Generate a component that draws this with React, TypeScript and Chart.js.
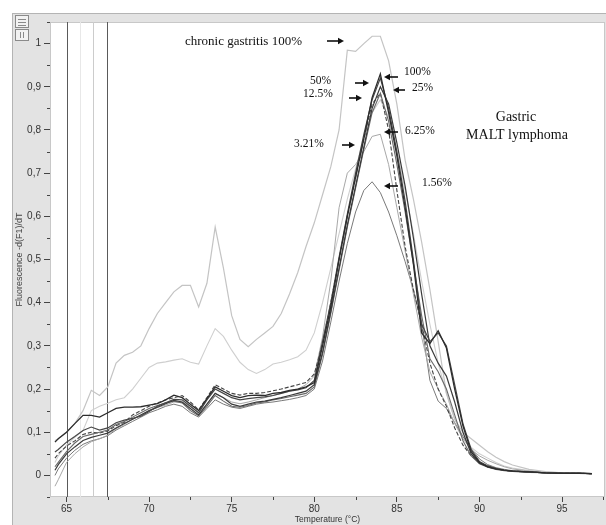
import React, { useEffect, useRef } from "react";
import { Chart, registerables } from "chart.js";

Chart.register(...registerables);

// Temperature grid (°C)
const temperatures = [
  64.3, 64.5, 65, 65.5, 66, 66.5, 67, 67.5, 68, 68.5,
  69, 69.5, 70, 70.5, 71, 71.5, 72, 72.5, 73, 73.5,
  74, 74.5, 75, 75.5, 76, 76.5, 77, 77.5, 78, 78.5,
  79, 79.5, 80, 80.5, 81, 81.5, 82, 82.5, 83, 83.5,
  84, 84.5, 85, 85.5, 86, 86.5, 87, 87.5, 88, 88.5,
  89, 89.5, 90, 90.5, 91, 91.5, 92, 93, 94, 95,
  96, 96.8,
];

const malt100 = [
  0.077, 0.085, 0.10, 0.12, 0.139, 0.139, 0.135, 0.145, 0.155, 0.158,
  0.158, 0.159, 0.163, 0.166, 0.175, 0.186, 0.18, 0.165, 0.15, 0.178,
  0.205, 0.195, 0.185, 0.18, 0.185, 0.186, 0.185, 0.19, 0.192, 0.197,
  0.20, 0.205, 0.215, 0.30, 0.39, 0.50, 0.60, 0.69, 0.78, 0.875,
  0.93, 0.84, 0.74, 0.62, 0.49, 0.33, 0.305, 0.335, 0.295, 0.20,
  0.115, 0.055, 0.03, 0.02, 0.015, 0.012, 0.01, 0.008, 0.006, 0.005,
  0.005, 0.004,
];

const malt50 = [
  0.054, 0.06, 0.077, 0.09, 0.104, 0.112, 0.105, 0.11, 0.122, 0.128,
  0.132, 0.137, 0.148, 0.16, 0.168, 0.176, 0.175, 0.16, 0.145, 0.175,
  0.20, 0.19, 0.18, 0.175, 0.178, 0.18, 0.182, 0.185, 0.19, 0.195,
  0.198, 0.203, 0.22, 0.31, 0.40, 0.505, 0.605, 0.70, 0.79, 0.87,
  0.92, 0.85, 0.75, 0.635, 0.50, 0.35, 0.31, 0.33, 0.30, 0.21,
  0.12, 0.06, 0.032, 0.022, 0.016, 0.012, 0.01, 0.008, 0.006, 0.005,
  0.005, 0.004,
];

const malt25 = [
  0.012, 0.025, 0.05, 0.066, 0.081, 0.088, 0.093, 0.098, 0.11, 0.12,
  0.13, 0.14, 0.15, 0.158, 0.166, 0.174, 0.17, 0.155, 0.14, 0.165,
  0.19, 0.18, 0.165, 0.16, 0.165, 0.17, 0.172, 0.176, 0.18, 0.185,
  0.19, 0.195, 0.21, 0.285, 0.38, 0.48, 0.58, 0.67, 0.76, 0.85,
  0.90, 0.86, 0.77, 0.67, 0.55, 0.42, 0.30, 0.26, 0.23, 0.17,
  0.10, 0.05, 0.028, 0.02, 0.015, 0.012, 0.01, 0.008, 0.006, 0.005,
  0.005, 0.004,
];

const malt12_5 = [
  0.02, 0.03, 0.055, 0.075, 0.09, 0.095, 0.10, 0.105, 0.118, 0.125,
  0.135, 0.145, 0.155, 0.162, 0.168, 0.172, 0.168, 0.15, 0.138, 0.16,
  0.185, 0.172, 0.16, 0.158, 0.162, 0.168, 0.17, 0.175, 0.178, 0.182,
  0.186, 0.19, 0.205, 0.28, 0.375, 0.475, 0.575, 0.665, 0.755, 0.84,
  0.885, 0.82, 0.72, 0.61, 0.49, 0.37, 0.27, 0.24, 0.20, 0.14,
  0.08, 0.045, 0.027, 0.019, 0.014, 0.011, 0.009, 0.007, 0.006, 0.005,
  0.005, 0.004,
];

const malt6_25 = [
  0.04, 0.05, 0.068, 0.08, 0.095, 0.10, 0.098, 0.103, 0.115, 0.123,
  0.14, 0.15, 0.16, 0.168, 0.175, 0.18, 0.185, 0.17, 0.152, 0.18,
  0.21, 0.20, 0.19, 0.186, 0.19, 0.19, 0.192, 0.196, 0.20, 0.205,
  0.21, 0.215, 0.235, 0.305, 0.40, 0.50, 0.60, 0.69, 0.78, 0.86,
  0.885, 0.80, 0.66, 0.53, 0.43, 0.35, 0.26, 0.20, 0.16, 0.11,
  0.07, 0.045, 0.03, 0.022, 0.016, 0.012, 0.01, 0.008, 0.006, 0.005,
  0.005, 0.004,
];

const malt3_21 = [
  -0.025, -0.01, 0.03, 0.05, 0.066, 0.078, 0.085, 0.093, 0.108, 0.118,
  0.13, 0.14, 0.15, 0.157, 0.163, 0.17, 0.17, 0.16, 0.145, 0.165,
  0.19, 0.18, 0.17, 0.166, 0.17, 0.175, 0.18, 0.185, 0.19, 0.195,
  0.20, 0.21, 0.23, 0.32, 0.45, 0.62, 0.70, 0.72, 0.75, 0.785,
  0.79, 0.72, 0.62, 0.52, 0.42, 0.32, 0.24, 0.20, 0.165, 0.12,
  0.085, 0.06, 0.045, 0.035, 0.027, 0.02, 0.015, 0.01, 0.007, 0.006,
  0.005, 0.004,
];

const malt1_56 = [
  0.0, 0.015, 0.04, 0.058, 0.072, 0.08, 0.085, 0.092, 0.105, 0.115,
  0.125, 0.135, 0.145, 0.152, 0.16, 0.165, 0.16, 0.145, 0.135, 0.155,
  0.175, 0.165, 0.158, 0.155, 0.16, 0.165, 0.168, 0.17, 0.173, 0.176,
  0.18, 0.185, 0.20, 0.265, 0.355, 0.45, 0.537, 0.61, 0.66, 0.68,
  0.655, 0.61, 0.555, 0.495, 0.43, 0.35, 0.22, 0.172, 0.155, 0.122,
  0.09, 0.062, 0.038, 0.025, 0.018, 0.014, 0.011, 0.008, 0.006, 0.005,
  0.005, 0.004,
];

const gastritis100 = [
  0.08, 0.085, 0.10, 0.12, 0.15, 0.197, 0.185, 0.205, 0.26, 0.278,
  0.285, 0.30, 0.34, 0.375, 0.40, 0.425, 0.44, 0.44, 0.39, 0.445,
  0.575, 0.48, 0.37, 0.315, 0.298, 0.315, 0.33, 0.345, 0.375, 0.42,
  0.47, 0.53, 0.585, 0.65, 0.715, 0.80, 0.985, 0.982, 1.0, 1.017,
  1.017, 0.96, 0.86, 0.73, 0.64, 0.54, 0.43, 0.31, 0.19, 0.13,
  0.10, 0.085, 0.07, 0.055, 0.042, 0.032, 0.024, 0.014, 0.009, 0.006,
  0.005, 0.005,
];

const gastritisLow = [
  0.03, 0.045, 0.07, 0.088, 0.104, 0.15, 0.16, 0.167, 0.175, 0.18,
  0.20, 0.225, 0.25, 0.26, 0.263, 0.267, 0.27, 0.262, 0.258, 0.30,
  0.34, 0.322, 0.29, 0.262, 0.245, 0.236, 0.245, 0.258, 0.262, 0.268,
  0.275, 0.29, 0.33, 0.40, 0.48, 0.56, 0.64, 0.71, 0.78, 0.84,
  0.87, 0.83, 0.75, 0.66, 0.56, 0.45, 0.35, 0.26, 0.19, 0.13,
  0.09, 0.065, 0.05, 0.04, 0.03, 0.022, 0.017, 0.011, 0.008, 0.006,
  0.005, 0.004,
];

const xTickValues = [65, 70, 75, 80, 85, 90, 95];
const yTickValues = [0, 0.1, 0.2, 0.3, 0.4, 0.5, 0.6, 0.7, 0.8, 0.9, 1];

const SERIES = [
  { label: "100%", data: malt100, color: "#2c2c2c", width: 1.3 },
  { label: "50%", data: malt50, color: "#474747", width: 1.2 },
  { label: "25%", data: malt25, color: "#3a3a3a", width: 1.2 },
  { label: "12.5%", data: malt12_5, color: "#6a6a6a", width: 1.1 },
  { label: "6.25%", data: malt6_25, color: "#444444", width: 1.1, dash: [4, 2] },
  { label: "3.21%", data: malt3_21, color: "#a8a8a8", width: 1.0 },
  { label: "1.56%", data: malt1_56, color: "#7a7a7a", width: 1.0 },
  { label: "chronic gastritis 100%", data: gastritis100, color: "#c4c4c4", width: 1.2 },
  { label: "chronic gastritis", data: gastritisLow, color: "#cfcfcf", width: 1.1 },
];

const fmt = (v: number) => (Math.round(v * 10) / 10).toString().replace(".", ",");

function arrow(ctx: CanvasRenderingContext2D, x1: number, y1: number, x2: number, y2: number) {
  const ang = Math.atan2(y2 - y1, x2 - x1);
  const hl = 6;
  const hw = 3.2;
  ctx.beginPath();
  ctx.moveTo(x1, y1);
  ctx.lineTo(x2 - Math.cos(ang) * hl * 0.6, y2 - Math.sin(ang) * hl * 0.6);
  ctx.lineWidth = 1.6;
  ctx.strokeStyle = "#111";
  ctx.stroke();
  ctx.beginPath();
  ctx.moveTo(x2, y2);
  ctx.lineTo(x2 - Math.cos(ang) * hl - Math.sin(ang) * hw, y2 - Math.sin(ang) * hl + Math.cos(ang) * hw);
  ctx.lineTo(x2 - Math.cos(ang) * hl + Math.sin(ang) * hw, y2 - Math.sin(ang) * hl - Math.cos(ang) * hw);
  ctx.closePath();
  ctx.fillStyle = "#111";
  ctx.fill();
}

const decoPlugin = {
  id: "deco",
  beforeDraw(chart: any) {
    const { ctx, chartArea: a, width, height } = chart;
    ctx.save();
    ctx.fillStyle = "#ffffff";
    ctx.fillRect(0, 0, width, height);
    ctx.fillStyle = "#e3e3e3";
    ctx.fillRect(12, 13, width - 12, height - 13);
    ctx.strokeStyle = "#b4b4b4";
    ctx.lineWidth = 1;
    ctx.beginPath();
    ctx.moveTo(12.5, 13);
    ctx.lineTo(12.5, height);
    ctx.moveTo(12, 13.5);
    ctx.lineTo(width, 13.5);
    ctx.stroke();
    ctx.fillStyle = "#ffffff";
    ctx.fillRect(a.left, a.top, a.right - a.left, a.bottom - a.top);
    ctx.strokeStyle = "#c8c8c8";
    ctx.strokeRect(a.left + 0.5, a.top + 0.5, a.right - a.left - 1, a.bottom - a.top - 1);
    // small toolbar icons
    ctx.strokeStyle = "#8a8a8a";
    ctx.fillStyle = "#f2f2f2";
    ctx.fillRect(15.5, 15.5, 13, 12);
    ctx.strokeRect(15.5, 15.5, 13, 12);
    ctx.fillRect(15.5, 29.5, 13, 11);
    ctx.strokeRect(15.5, 29.5, 13, 11);
    ctx.beginPath();
    ctx.moveTo(18, 19.5); ctx.lineTo(26, 19.5);
    ctx.moveTo(18, 22.5); ctx.lineTo(26, 22.5);
    ctx.moveTo(18, 25.5); ctx.lineTo(26, 25.5);
    ctx.moveTo(20.5, 32); ctx.lineTo(20.5, 38);
    ctx.moveTo(23.5, 32); ctx.lineTo(23.5, 38);
    ctx.stroke();
    ctx.restore();
  },
  beforeDatasetsDraw(chart: any) {
    const { ctx, chartArea: a, scales } = chart;
    const lines = [
      { t: 65, c: "#5a5a5a" },
      { t: 65.8, c: "#e8e8e8" },
      { t: 66.6, c: "#cccccc" },
      { t: 67.47, c: "#5a5a5a" },
    ];
    ctx.save();
    ctx.lineWidth = 1;
    for (const l of lines) {
      const x = Math.round(scales.x.getPixelForValue(l.t)) + 0.5;
      ctx.strokeStyle = l.c;
      ctx.beginPath();
      ctx.moveTo(x, a.top);
      ctx.lineTo(x, a.bottom);
      ctx.stroke();
    }
    ctx.restore();
  },
  afterDraw(chart: any) {
    const { ctx, chartArea: a, scales } = chart;
    ctx.save();
    // minor ticks
    ctx.strokeStyle = "#444";
    ctx.lineWidth = 1;
    ctx.beginPath();
    for (let v = -0.05; v <= 1.06; v += 0.1) {
      const y = Math.round(scales.y.getPixelForValue(v)) + 0.5;
      ctx.moveTo(a.left - 3, y);
      ctx.lineTo(a.left, y);
    }
    for (let t = 67.5; t <= 97.6; t += 5) {
      const x = Math.round(scales.x.getPixelForValue(t)) + 0.5;
      ctx.moveTo(x, a.bottom);
      ctx.lineTo(x, a.bottom + 3);
    }
    ctx.stroke();

    // annotations
    ctx.fillStyle = "#111";
    ctx.textBaseline = "middle";
    ctx.textAlign = "left";
    ctx.font = "13px 'Liberation Serif', serif";
    ctx.fillText("chronic gastritis 100%", 185, 42);
    arrow(ctx, 327, 41, 344, 41);

    ctx.font = "11.5px 'Liberation Serif', serif";
    const labels = [
      { t: "100%", x: 404, y: 72, a: [398, 77, 384, 77] },
      { t: "50%", x: 310, y: 81, a: [355, 83, 369, 83] },
      { t: "12.5%", x: 303, y: 94, a: [349, 98, 362, 98] },
      { t: "25%", x: 412, y: 88, a: [405, 90, 393, 90] },
      { t: "6.25%", x: 405, y: 131, a: [398, 132, 384, 132] },
      { t: "3.21%", x: 294, y: 144, a: [342, 145, 355, 145] },
      { t: "1.56%", x: 422, y: 183, a: [398, 186, 384, 186] },
    ];
    for (const l of labels) {
      ctx.fillStyle = "#111";
      ctx.fillText(l.t, l.x, l.y);
      arrow(ctx, l.a[0], l.a[1], l.a[2], l.a[3]);
    }
    ctx.fillStyle = "#111";
    ctx.textAlign = "center";
    ctx.font = "14px 'Liberation Serif', serif";
    ctx.fillText("Gastric", 516, 117);
    ctx.fillText("MALT lymphoma", 517, 135);
    ctx.restore();
  },
};

export default function App() {
  const ref = useRef<HTMLCanvasElement | null>(null);

  useEffect(() => {
    if (!ref.current) return;
    const chart = new Chart(ref.current, {
      type: "line",
      data: {
        datasets: SERIES.map((s) => ({
          label: s.label,
          data: temperatures.map((t, i) => ({ x: t, y: s.data[i] })),
          borderColor: s.color,
          borderWidth: s.width,
          borderDash: s.dash || [],
          pointRadius: 0,
          tension: 0,
          fill: false,
        })),
      },
      options: {
        animation: false,
        responsive: false,
        devicePixelRatio: 1,
        layout: { padding: { left: 12, top: 22, right: 1, bottom: 0 } },
        plugins: {
          legend: { display: false },
          tooltip: { enabled: false },
        },
        scales: {
          x: {
            type: "linear",
            min: 64,
            max: 97.6,
            afterBuildTicks: (s: any) => {
              s.ticks = xTickValues.map((v) => ({ value: v }));
            },
            afterFit: (s: any) => {
              s.height = 28;
            },
            ticks: {
              autoSkip: false,
              maxRotation: 0,
              padding: 1,
              color: "#333",
              font: { family: "'Liberation Sans', Arial, sans-serif", size: 10 },
              callback: (v: any) => String(v),
            },
            grid: { drawOnChartArea: false, drawTicks: true, tickLength: 5, tickColor: "#444", color: "#444" },
            border: { display: false },
            title: {
              display: true,
              text: "Temperature (°C)",
              color: "#333",
              padding: { top: 0, bottom: 0 },
              font: { family: "'Liberation Sans', Arial, sans-serif", size: 8.5 },
            },
          },
          y: {
            type: "linear",
            min: -0.05,
            max: 1.05,
            afterBuildTicks: (s: any) => {
              s.ticks = yTickValues.map((v) => ({ value: v }));
            },
            afterFit: (s: any) => {
              s.width = 38;
            },
            ticks: {
              autoSkip: false,
              padding: 3,
              color: "#333",
              font: { family: "'Liberation Sans', Arial, sans-serif", size: 10 },
              callback: (v: any) => fmt(Number(v)),
            },
            grid: { drawOnChartArea: false, drawTicks: true, tickLength: 6, tickColor: "#444", color: "#444" },
            border: { display: false },
            title: {
              display: true,
              text: "Fluorescence -d(F1)/dT",
              color: "#444",
              padding: { top: 2, bottom: 0 },
              font: { family: "'Liberation Sans', Arial, sans-serif", size: 9 },
            },
          },
        },
      },
      plugins: [decoPlugin],
    } as any);
    return () => chart.destroy();
  }, []);

  return (
    <div style={{ position: "fixed", left: 0, top: 0, width: 606, height: 525 }}>
      <canvas ref={ref} width={606} height={525} style={{ width: 606, height: 525, display: "block" }} />
    </div>
  );
}
